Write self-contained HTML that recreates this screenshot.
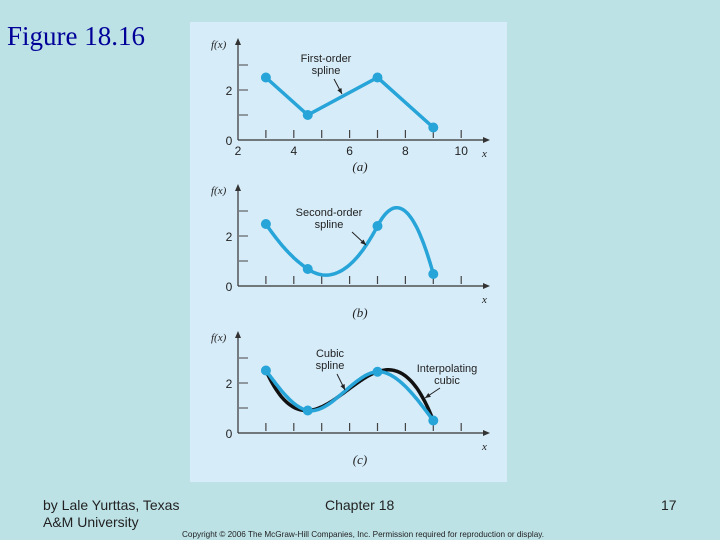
<!DOCTYPE html>
<html><head><meta charset="utf-8"><style>
body{margin:0;width:720px;height:540px;background:#bde2e6;position:relative;overflow:hidden;font-family:"Liberation Sans",sans-serif}
.t{position:absolute}
</style></head><body>
<div class="t" style="left:7px;top:21px;font-family:'Liberation Serif',serif;font-size:27px;color:#000099">Figure 18.16</div>
<div class="t" style="left:43px;top:497px;font-size:14px;line-height:17px;color:#222">by Lale Yurttas, Texas<br>A&amp;M University</div>
<div class="t" style="left:325px;top:497px;font-size:14px;color:#222">Chapter 18</div>
<div class="t" style="left:661px;top:497px;font-size:14px;color:#222">17</div>
<div class="t" style="left:182px;top:530px;font-size:8.2px;color:#222;white-space:nowrap">Copyright © 2006 The McGraw-Hill Companies, Inc. Permission required for reproduction or display.</div>
<svg id="fig" width="720" height="540" style="position:absolute;left:0;top:0">
<rect x="190" y="22" width="317" height="460" fill="#d7ecf9"/>
</svg>
<script>
const xs=[3,4.5,7,9];
const yA=[2.5,1,2.5,0.5];
const yB=[2.48,0.68,2.4,0.48];
const yC=[2.5,0.9,2.45,0.5];
const yTicks=[0,2];
const xTickLabels=[2,4,6,8,10];
const xTicks=[3,4,5,6,7,8,9,10];
const NS="http://www.w3.org/2000/svg";
const svg=document.getElementById('fig');
const BLUE="#27a4d8";
function mk(t,a,p){const e=document.createElementNS(NS,t);for(const k in a)e.setAttribute(k,a[k]);(p||svg).appendChild(e);return e;}
function X(v){return 238+(v-2)*27.9;}
function panel(base,name,letter,labelsX){
  const g=mk('g',{});
  
  
  const Y=v=>base-v*25;
  mk('line',{x1:238,y1:base,x2:484,y2:base,stroke:'#333','stroke-width':1.2},g);
  mk('polygon',{points:`483,${base-3} 490,${base} 483,${base+3}`,fill:'#333'},g);
  mk('line',{x1:238,y1:base,x2:238,y2:base-97,stroke:'#333','stroke-width':1.2},g);
  mk('polygon',{points:`235,${base-95} 238,${base-102} 241,${base-95}`,fill:'#333'},g);
  for(const v of [1,2,3]) mk('line',{x1:239,y1:Y(v),x2:248,y2:Y(v),stroke:'#444'},g);
  for(const v of xTicks) mk('line',{x1:X(v),y1:base-2,x2:X(v),y2:base-10,stroke:'#444','stroke-width':1.2},g);
  for(const v of yTicks){const t=mk('text',{x:229,y:Y(v)+5,'font-size':12,'text-anchor':'middle',fill:'#222'},g);t.textContent=v;}
  const fx=mk('text',{x:211,y:base-92,'font-size':11,'font-style':'italic','font-family':'Liberation Serif,serif',fill:'#222'},g);fx.textContent='f(x)';
  const xl=mk('text',{x:482,y:base+17,'font-size':11,'font-style':'italic','font-family':'Liberation Serif,serif',fill:'#222'},g);xl.textContent='x';
  if(labelsX) for(const v of xTickLabels){const t=mk('text',{x:X(v),y:base+15,'font-size':12,'text-anchor':'middle',fill:'#222'},g);t.textContent=v;}
  const pl=mk('text',{x:360,y:base+31,'font-size':13,'font-style':'italic','font-family':'Liberation Serif,serif','text-anchor':'middle',fill:'#222'},g);pl.textContent='('+letter+')';
  return {g,Y};
}
function pathFrom(f,Y,x0,x1){let d='';for(let i=0;i<=120;i++){const x=x0+(x1-x0)*i/120;d+=(i?'L':'M')+X(x).toFixed(1)+','+Y(f(x)).toFixed(1);}return d;}
function dots(ys,Y,g,name){ys.forEach((y,i)=>{const c=mk('circle',{cx:X(xs[i]),cy:Y(y),r:5,fill:BLUE},g);});}
function label(g,lines,x,y){lines.forEach((s,i)=>{const t=mk('text',{x:x,y:y+i*12,'font-size':11,'text-anchor':'middle',fill:'#222'},g);t.textContent=s;});}
function arrow(g,x1,y1,x2,y2){mk('line',{x1,y1,x2,y2,stroke:'#222'},g);const a=Math.atan2(y2-y1,x2-x1),L=6;mk('polygon',{points:`${x2},${y2} ${x2-L*Math.cos(a-0.4)},${y2-L*Math.sin(a-0.4)} ${x2-L*Math.cos(a+0.4)},${y2-L*Math.sin(a+0.4)}`,fill:'#222'},g);}
// (a)
let P=panel(140,'panel-a-first-order','a',true);
let pa=mk('polyline',{points:xs.map((x,i)=>X(x)+','+P.Y(yA[i])).join(' '),fill:'none',stroke:BLUE,'stroke-width':3.5},P.g);

dots(yA,P.Y,P.g,'a');
label(P.g,['First-order','spline'],326,62);arrow(P.g,334,79,342,94);
// (b) quadratic spline
P=panel(286,'panel-b-second-order','b',false);
function quadSpline(ys,a1){const segs=[];let a=a1,b=(ys[1]-ys[0]-a*(xs[1]-xs[0])**2)/(xs[1]-xs[0]);segs.push([a,b,ys[0]]);
 for(let i=1;i<xs.length-1;i++){const h0=xs[i]-xs[i-1];const s=b+2*a*h0;const h=xs[i+1]-xs[i];a=(ys[i+1]-ys[i]-s*h)/(h*h);b=s;segs.push([a,b,ys[i]]);}
 return x=>{let i=0;while(i<segs.length-1&&x>xs[i+1])i++;const[aa,bb,cc]=segs[i];const d=x-xs[i];return aa*d*d+bb*d+cc;};}
const fq=quadSpline(yB,0.3);
let pb=mk('path',{d:pathFrom(fq,P.Y,xs[0],xs[3]),fill:'none',stroke:BLUE,'stroke-width':3.5},P.g);

dots(yB,P.Y,P.g,'b');
label(P.g,['Second-order','spline'],329,216);arrow(P.g,352,232,366,245);
// (c) cubic spline + interpolating cubic
P=panel(433,'panel-c-cubic','c',false);
function natCubic(ys){const n=xs.length,h=[],al=[],l=[1],mu=[0],z=[0],c=new Array(n).fill(0),b=[],d=[];
 for(let i=0;i<n-1;i++)h.push(xs[i+1]-xs[i]);
 for(let i=1;i<n-1;i++)al[i]=3/h[i]*(ys[i+1]-ys[i])-3/h[i-1]*(ys[i]-ys[i-1]);
 for(let i=1;i<n-1;i++){l[i]=2*(xs[i+1]-xs[i-1])-h[i-1]*mu[i-1];mu[i]=h[i]/l[i];z[i]=(al[i]-h[i-1]*z[i-1])/l[i];}
 for(let j=n-2;j>=0;j--){c[j]=(z[j]||0)-(mu[j]||0)*c[j+1];b[j]=(ys[j+1]-ys[j])/h[j]-h[j]*(c[j+1]+2*c[j])/3;d[j]=(c[j+1]-c[j])/(3*h[j]);}
 return x=>{let i=0;while(i<n-2&&x>xs[i+1])i++;const t=x-xs[i];return ys[i]+b[i]*t+c[i]*t*t+d[i]*t*t*t;};}
function lagr(ys){return x=>{let s=0;for(let i=0;i<xs.length;i++){let p=ys[i];for(let j=0;j<xs.length;j++)if(j!=i)p*=(x-xs[j])/(xs[i]-xs[j]);s+=p;}return s;};}
let pk=mk('path',{d:pathFrom(lagr(yC),P.Y,xs[0],xs[3]),fill:'none',stroke:'#111','stroke-width':3.5},P.g);

let pc=mk('path',{d:pathFrom(natCubic(yC),P.Y,xs[0],xs[3]),fill:'none',stroke:BLUE,'stroke-width':3.5},P.g);

dots(yC,P.Y,P.g,'c');
label(P.g,['Cubic','spline'],330,357);arrow(P.g,337,374,345,390);
label(P.g,['Interpolating','cubic'],447,372);arrow(P.g,440,388,425,398);
</script>
</body></html>
